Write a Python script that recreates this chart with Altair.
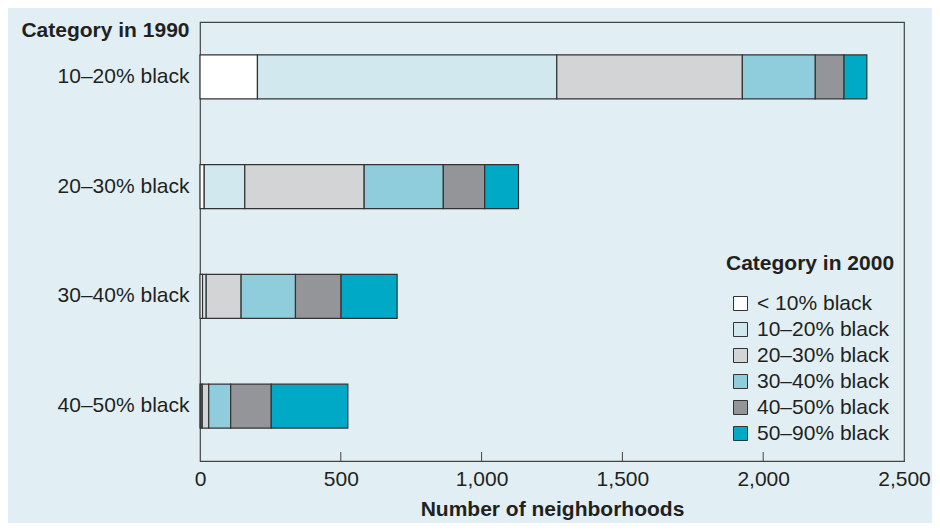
import altair as alt
import pandas as pd

# Categories
cats_1990 = ["10–20% black", "20–30% black", "30–40% black", "40–50% black"]
cats_2000 = ["< 10% black", "10–20% black", "20–30% black",
             "30–40% black", "40–50% black", "50–90% black"]
colors_2000 = ["#ffffff", "#d0e8ee", "#d3d4d6", "#90cddc", "#949598", "#00a9c5"]

# Number of neighborhoods per 1990 category (rows), by 2000 category
lt10 = [204, 15, 9, 3]
c10_20 = [1063, 144, 13, 5]
c20_30 = [659, 424, 124, 23]
c30_40 = [259, 281, 193, 78]
c40_50 = [102, 147, 162, 144]
c50_90 = [81, 120, 199, 272]

x_ticks = [0, 500, 1000, 1500, 2000, 2500]
inner_ticks = [500, 1000, 1500, 2000]

series = [lt10, c10_20, c20_30, c30_40, c40_50, c50_90]
rows = []
for j, (c2000, vals) in enumerate(zip(cats_2000, series)):
    for i, c1990 in enumerate(cats_1990):
        rows.append({"cat1990": c1990, "cat2000": c2000, "idx": j, "count": vals[i]})
df = pd.DataFrame(rows)
tick_df = pd.DataFrame({"v": inner_ticks})

FONT = "Liberation Sans"
TXT = "#231f20"
W, H = 704, 439

x_scale = alt.Scale(domain=[0, 2500], nice=False)

bars = alt.Chart(df).mark_bar(stroke="#333333", strokeWidth=1.2).encode(
    y=alt.Y("cat1990:N", sort=cats_1990,
            scale=alt.Scale(paddingInner=0.6, paddingOuter=0.3),
            axis=alt.Axis(title="Category in 1990", titleAngle=0, titleAlign="right",
                          titleBaseline="middle", titleX=-11, titleY=8,
                          titleFontSize=21, titleFontWeight="bold",
                          labelFontSize=21, ticks=False, domain=False,
                          labelPadding=11)),
    x=alt.X("count:Q", stack="zero", scale=x_scale,
            axis=alt.Axis(values=x_ticks, format=",d", ticks=False, labelFlush=False,
                          grid=False, domainColor="#444444", labelPadding=7,
                          labelFontSize=21, title="Number of neighborhoods",
                          titleFontSize=21, titleFontWeight="bold", titlePadding=9)),
    color=alt.Color("cat2000:N", sort=cats_2000,
                    scale=alt.Scale(domain=cats_2000, range=colors_2000),
                    legend=alt.Legend(title="Category in 2000", orient="none",
                                      legendX=526, legendY=231,
                                      titleFontSize=21, titleFontWeight="bold",
                                      labelFontSize=21, symbolType="square",
                                      symbolSize=196, symbolStrokeColor="#333333",
                                      symbolStrokeWidth=1, symbolOffset=4,
                                      rowPadding=4, titlePadding=19, labelOffset=6)),
    order=alt.Order("idx:Q"),
)

ticks = alt.Chart(tick_df).mark_rule(color="#444444", strokeWidth=1).encode(
    x=alt.X("v:Q", scale=x_scale),
    y=alt.value(H - 9),
    y2=alt.value(H),
)

chart = alt.layer(bars, ticks).properties(
    width=W, height=H,
    autosize=alt.AutoSizeParams(type="none"),
    padding={"left": 192, "top": 14, "right": 28, "bottom": 62},
    background="#e1eff4",
).configure_view(
    stroke="#444444", strokeWidth=1.2, fill=None
).configure_axis(
    labelFont=FONT, titleFont=FONT, labelColor=TXT, titleColor=TXT
).configure_legend(
    labelFont=FONT, titleFont=FONT, labelColor=TXT, titleColor=TXT
)

chart.save("out.html", embed_options={"renderer": "svg", "actions": False})
